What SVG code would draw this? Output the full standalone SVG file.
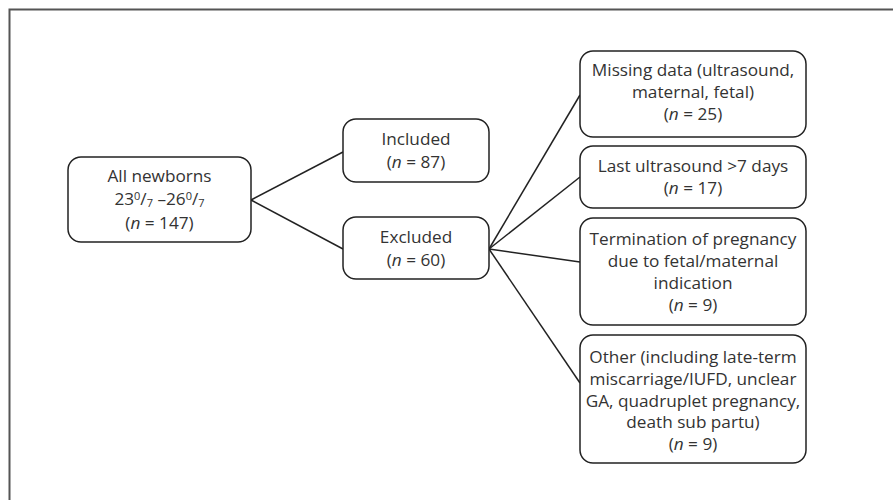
<svg xmlns="http://www.w3.org/2000/svg" width="893" height="500" viewBox="0 0 893 500">
<style>
.box{fill:#fff;stroke:#222;stroke-width:1.5}
.lbl{font-family:"Open Sans","Noto Sans",sans-serif;font-size:17.2px;fill:#333;text-anchor:middle}
.conn line{stroke:#222;stroke-width:1.5}
.sm{font-size:11px}
</style>
<rect width="893" height="500" fill="#fff"/>
<path d="M9.5 500V9.5H893" fill="none" stroke="#555" stroke-width="2"/>
<g class="conn" id="connectors">
<line x1="251" y1="200" x2="343" y2="152"/>
<line x1="251" y1="200" x2="343" y2="249"/>
<line x1="489" y1="249" x2="580" y2="95"/>
<line x1="489" y1="249" x2="580" y2="177"/>
<line x1="489" y1="249" x2="580" y2="262"/>
<line x1="489" y1="249" x2="580" y2="383"/>
</g>
<g id="all">
<rect class="box" x="68" y="157" width="183" height="85" rx="13"/>
<text class="lbl" x="159.5" y="182">All newborns</text>
<text class="lbl" x="159.5" y="205">23<tspan class="sm" dy="-5">0</tspan><tspan dy="5">/</tspan><tspan class="sm" dy="2">7</tspan><tspan dy="-2"> –26</tspan><tspan class="sm" dy="-5">0</tspan><tspan dy="5">/</tspan><tspan class="sm" dy="2">7</tspan></text>
<text class="lbl" x="159.5" y="229">(<tspan font-style="italic">n</tspan> = 147)</text>
</g>
<g id="included">
<rect class="box" x="343" y="119" width="146" height="63" rx="13"/>
<text class="lbl" x="416" y="145">Included</text>
<text class="lbl" x="416" y="168">(<tspan font-style="italic">n</tspan> = 87)</text>
</g>
<g id="excluded">
<rect class="box" x="343" y="217" width="146" height="62" rx="13"/>
<text class="lbl" x="416" y="243">Excluded</text>
<text class="lbl" x="416" y="266">(<tspan font-style="italic">n</tspan> = 60)</text>
</g>
<g id="missing">
<rect class="box" x="580" y="51" width="226" height="86" rx="13"/>
<text class="lbl" x="693" y="76">Missing data (ultrasound,</text>
<text class="lbl" x="693" y="98">maternal, fetal)</text>
<text class="lbl" x="693" y="120">(<tspan font-style="italic">n</tspan> = 25)</text>
</g>
<g id="last">
<rect class="box" x="580" y="146" width="226" height="62" rx="13"/>
<text class="lbl" x="693" y="172">Last ultrasound &gt;7 days</text>
<text class="lbl" x="693" y="194">(<tspan font-style="italic">n</tspan> = 17)</text>
</g>
<g id="termination">
<rect class="box" x="580" y="218" width="226" height="107" rx="13"/>
<text class="lbl" x="693" y="245">Termination of pregnancy</text>
<text class="lbl" x="693" y="267">due to fetal/maternal</text>
<text class="lbl" x="693" y="289">indication</text>
<text class="lbl" x="693" y="311">(<tspan font-style="italic">n</tspan> = 9)</text>
</g>
<g id="other">
<rect class="box" x="580" y="335" width="226" height="128" rx="13"/>
<text class="lbl" x="693" y="363">Other (including late-term</text>
<text class="lbl" x="693" y="385">miscarriage/IUFD, unclear</text>
<text class="lbl" x="693" y="407">GA, quadruplet pregnancy,</text>
<text class="lbl" x="693" y="428">death sub partu)</text>
<text class="lbl" x="693" y="450">(<tspan font-style="italic">n</tspan> = 9)</text>
</g>
</svg>
